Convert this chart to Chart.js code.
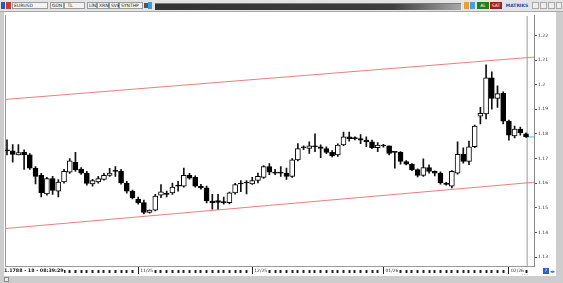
<!DOCTYPE html>
<html><head><meta charset="utf-8">
<script src="https://cdn.jsdelivr.net/npm/chart.js@4/dist/chart.umd.min.js"></script>
<style>
html,body{margin:0;padding:0;background:#fff;}
#frame{position:relative;width:563px;height:283px;background:#cdcdcd;overflow:hidden;font-family:"DejaVu Sans",sans-serif;}
.a{position:absolute;box-sizing:border-box;white-space:nowrap;}
.btn{top:2px;height:7px;border:1px solid #9c9c9c;background:#f3f3f3;font-size:4.5px;line-height:5px;color:#222;padding-left:1px;}
</style></head>
<body>
<div id="frame">
  <div class="a" style="left:0;top:0;width:563px;height:12px;background:#e4e4e4;border-bottom:1px solid #a8a8a8"></div>
  <svg class="a" style="left:0;top:0;z-index:5" width="563" height="12" xmlns="http://www.w3.org/2000/svg">
    <defs><linearGradient id="g" x1="0" x2="1" y1="0" y2="0">
      <stop offset="0" stop-color="#333333"/><stop offset="0.78" stop-color="#3e3e3e"/><stop offset="1" stop-color="#a8a8a8"/>
    </linearGradient></defs>
    <rect x="155" y="3" width="306" height="7" fill="url(#g)"/>
    <rect x="155" y="3" width="306" height="1" fill="#7a7a7a"/>
  </svg>
  <div class="a" style="left:1px;top:2px;width:4px;height:7px;background:#2c56b0"></div>
  <div class="a" style="left:6px;top:2px;width:5px;height:7px;background:#c83a3a"></div>
  <div class="a btn" style="left:12px;width:36px">EURUSD</div>
  <div class="a btn" style="left:50px;width:14px">GÜN</div>
  <div class="a btn" style="left:64px;width:21px">&nbsp;TL</div>
  <div class="a btn" style="left:87px;width:10px">LİN</div>
  <div class="a btn" style="left:97px;width:12px">XRN</div>
  <div class="a btn" style="left:109px;width:10px">SVB</div>
  <div class="a btn" style="left:119px;width:24px">SYNTHP</div>
  <div class="a" style="left:144px;top:3px;width:4px;height:5px;background:#555"></div>
  <div class="a" style="left:148px;top:2px;width:4px;height:7px;background:#3a9be0"></div>
  <div class="a" style="left:464px;top:2px;width:5px;height:7px;background:#e8a030"></div>
  <div class="a" style="left:470px;top:2px;width:5px;height:7px;background:#4aa0d0"></div>
  <div class="a" style="left:477px;top:2px;width:12px;height:7px;background:#1f7d22;color:#fff;font-size:4.5px;line-height:7px;text-align:center">AL</div>
  <div class="a" style="left:490px;top:2px;width:12px;height:7px;background:#a81c1c;color:#fff;font-size:4.5px;line-height:7px;text-align:center">SAT</div>
  <div class="a" style="left:504px;top:2px;width:26px;height:7px;background:#dfe4ee;color:#2e4c9a;font-size:4.5px;line-height:7px;text-align:center;font-weight:bold">MATRIKS</div>
  <div class="a" style="left:532px;top:2px;width:7px;height:7px;border:1px solid #aaa;background:#eee"></div>
  <div class="a" style="left:540px;top:2px;width:7px;height:7px;border:1px solid #aaa;background:#eee"></div>
  <div class="a" style="left:548px;top:2px;width:7px;height:7px;border:1px solid #aaa;background:#eee"></div>
  <div class="a" style="left:556px;top:2px;width:6px;height:7px;border:1px solid #aaa;background:#eee"></div>
  <div class="a" style="left:4px;top:12px;width:552px;height:264px;background:#fff">
    <canvas id="c" width="552" height="264"></canvas>
  </div>
  <div class="a" style="left:4px;top:268px;font-size:4.8px;font-weight:bold;color:#111;background:#fff;line-height:6px">1.1788 - 18 - 08:39:29</div>
  <div class="a" style="left:4px;top:277px;width:5px;height:5px;border:1px solid #888;background:#eee"></div>
  <div class="a" style="left:522px;top:270px;font-size:5px;color:#555">....</div>
  <div class="a" style="left:543px;top:268px;width:6px;height:6px;background:#2f5fc0;color:#fff;font-size:4.5px;line-height:6px;text-align:center">?</div>
  <div class="a" style="left:550px;top:268px;font-size:5px;color:#2f5fc0;line-height:6px">◂▸</div>
</div>
<script>
const opens = [
1.1731,1.1731,1.1715,1.1725,1.1715,1.1661,1.1632,1.1557,1.1619,1.1568,
1.1605,1.1645,1.1685,1.1657,1.1641,1.1597,1.1605,1.1615,1.1632,1.1648,
1.1648,1.1601,1.1568,1.1535,1.1521,1.1481,1.1491,1.1552,1.1555,1.1561,
1.1588,1.1588,1.1632,1.1624,1.1588,1.1581,1.1528,1.1530,1.1521,1.1521,
1.1561,1.1597,1.1601,1.1597,1.1611,1.1624,1.1668,1.1645,1.1641,1.1641,
1.1628,1.1695,1.1744,1.1741,1.1748,1.1748,1.1741,1.1725,1.1715,1.1755,
1.1788,1.1781,1.1781,1.1775,1.1768,1.1744,1.1755,1.1752,1.1725,1.1725,
1.1688,1.1677,1.1655,1.1632,1.1664,1.1648,1.1641,1.1601,1.1588,1.1641,
1.1717,1.1688,1.1748,1.1872,1.1881,1.2028,1.1944,1.1965,1.1852,1.1792,
1.1820,1.1801];
const highs = [
1.1776,1.1757,1.1757,1.1736,1.1720,1.1668,1.1640,1.1624,1.1628,1.1615,
1.1656,1.1700,1.1725,1.1664,1.1648,1.1616,1.1628,1.1640,1.1660,1.1668,
1.1656,1.1608,1.1572,1.1544,1.1532,1.1492,1.1555,1.1595,1.1568,1.1601,
1.1608,1.1661,1.1640,1.1630,1.1596,1.1588,1.1555,1.1555,1.1544,1.1564,
1.1600,1.1611,1.1611,1.1624,1.1641,1.1672,1.1680,1.1656,1.1668,1.1661,
1.1700,1.1761,1.1752,1.1768,1.1801,1.1756,1.1748,1.1732,1.1760,1.1808,
1.1808,1.1788,1.1797,1.1788,1.1775,1.1765,1.1758,1.1752,1.1728,1.1728,
1.1692,1.1680,1.1658,1.1699,1.1675,1.1650,1.1646,1.1604,1.1651,1.1768,
1.1744,1.1771,1.1836,1.1908,1.2081,1.2052,1.1995,1.1971,1.1856,1.1832,
1.1828,1.1805];
const lows = [
1.1715,1.1685,1.1715,1.1656,1.1656,1.1597,1.1544,1.1552,1.1555,1.1544,
1.1600,1.1640,1.1648,1.1636,1.1592,1.1588,1.1600,1.1612,1.1628,1.1628,
1.1596,1.1560,1.1536,1.1515,1.1475,1.1478,1.1488,1.1541,1.1544,1.1555,
1.1568,1.1584,1.1616,1.1584,1.1576,1.1520,1.1495,1.1495,1.1515,1.1516,
1.1556,1.1566,1.1557,1.1595,1.1601,1.1620,1.1635,1.1635,1.1628,1.1615,
1.1624,1.1691,1.1736,1.1721,1.1728,1.1704,1.1720,1.1707,1.1709,1.1752,
1.1771,1.1776,1.1761,1.1748,1.1740,1.1728,1.1746,1.1715,1.1661,1.1677,
1.1674,1.1651,1.1626,1.1628,1.1641,1.1630,1.1596,1.1592,1.1581,1.1637,
1.1681,1.1675,1.1744,1.1841,1.1861,1.1901,1.1908,1.1841,1.1775,1.1784,
1.1795,1.1786];
const closes = [
1.1731,1.1717,1.1724,1.1715,1.1661,1.1628,1.1561,1.1619,1.1571,1.1605,
1.1648,1.1691,1.1655,1.1641,1.1599,1.1611,1.1619,1.1632,1.1641,1.1648,
1.1601,1.1568,1.1541,1.1521,1.1481,1.1491,1.1548,1.1565,1.1555,1.1584,
1.1588,1.1632,1.1621,1.1588,1.1581,1.1528,1.1521,1.1522,1.1521,1.1561,
1.1595,1.1597,1.1601,1.1611,1.1628,1.1668,1.1645,1.1641,1.1641,1.1628,
1.1695,1.1741,1.1744,1.1752,1.1748,1.1741,1.1725,1.1711,1.1755,1.1788,
1.1781,1.1781,1.1775,1.1768,1.1744,1.1755,1.1751,1.1721,1.1725,1.1688,
1.1677,1.1655,1.1632,1.1664,1.1648,1.1641,1.1601,1.1595,1.1648,1.1717,
1.1688,1.1748,1.1832,1.1884,1.2028,1.1944,1.1964,1.1852,1.1795,1.1820,
1.1805,1.1788];
const monthTickIndex = [23, 43, 66, 88];
const monthLabels = ['11/25', '12/25', '01/26', '02/26'];
const yTickValues = [1.13, 1.14, 1.15, 1.16, 1.17, 1.18, 1.19, 1.2, 1.21, 1.22];
const channelX = [-0.35, 92.4];
const channelUpper = [1.1940, 1.2112];
const channelLower = [1.1416, 1.1604];
const lastPrice = 1.1788;
const separatorX = 91.2;

const Y_MIN = 1.1264, Y_MAX = 1.228, X_MIN = -0.35, X_MAX = 92.4;

const idx = opens.map((_, i) => i);
const bodyData = idx.map(i => ({x: i, y: [Math.min(opens[i], closes[i]), Math.max(opens[i], closes[i])]}));
const wickData = idx.map(i => ({x: i, y: [lows[i], highs[i]]}));
const bodyFill = idx.map(i => closes[i] > opens[i] ? '#ffffff' : '#000000');

const dayTicks = [];
for (let i = 10; i < opens.length; i++) dayTicks.push(i);
const hidden = new Set();
monthTickIndex.forEach(m => { hidden.add(m + 1); hidden.add(m + 2); });
const isMonth = ctx => monthTickIndex.includes(ctx.tick && ctx.tick.value);

new Chart(document.getElementById('c'), {
  type: 'bar',
  data: {
    datasets: [
      {type: 'bar', data: bodyData, backgroundColor: bodyFill, borderColor: '#000', borderWidth: 1,
       borderSkipped: false, barThickness: 5, minBarLength: 1, grouped: false, order: 0},
      {type: 'bar', data: wickData, backgroundColor: '#111', borderWidth: 0,
       barThickness: 1, grouped: false, order: 1},
      {type: 'line', data: channelX.map((x, k) => ({x, y: channelUpper[k]})), borderColor: '#f27b7b',
       borderWidth: 1, pointRadius: 0, order: 2},
      {type: 'line', data: channelX.map((x, k) => ({x, y: channelLower[k]})), borderColor: '#f27b7b',
       borderWidth: 1, pointRadius: 0, order: 2},
      {type: 'line', data: [{x: separatorX, y: Y_MIN}, {x: separatorX, y: Y_MAX}], borderColor: '#9a9a9a',
       borderWidth: 1, pointRadius: 0, order: 3},
      {type: 'line', data: [{x: separatorX, y: lastPrice}, {x: X_MAX, y: lastPrice}], borderColor: '#3ec3d6',
       borderWidth: 1, pointRadius: 0, order: 3}
    ]
  },
  options: {
    responsive: false, animation: false, devicePixelRatio: 1,
    layout: {padding: {top: 0, left: 0, right: 0, bottom: 0}},
    plugins: {legend: {display: false}, tooltip: {enabled: false}},
    scales: {
      x: {
        type: 'linear', position: 'bottom', min: X_MIN, max: X_MAX, offset: false,
        afterFit: s => { s.height = 10; },
        afterBuildTicks: s => { s.ticks = dayTicks.map(v => ({value: v})); },
        grid: {
          offset: false, drawOnChartArea: false, tickLength: 8,
          tickColor: ctx => hidden.has(ctx.tick && ctx.tick.value) ? 'rgba(0,0,0,0)' : '#222',
          tickWidth: ctx => isMonth(ctx) ? 1 : 2,
          tickBorderDash: ctx => isMonth(ctx) ? [] : [3, 9],
          tickBorderDashOffset: ctx => isMonth(ctx) ? 0 : 9
        },
        border: {display: true, color: '#9a9a9a'},
        ticks: {
          autoSkip: false, maxRotation: 0, minRotation: 0, align: 'start', padding: -6, labelOffset: 2,
          font: {family: 'DejaVu Sans', size: 4.5}, color: '#333',
          callback: v => { const k = monthTickIndex.indexOf(v); return k >= 0 ? monthLabels[k] : ''; }
        }
      },
      y: {
        type: 'linear', position: 'right', min: Y_MIN, max: Y_MAX,
        afterFit: s => { s.width = 22; },
        afterBuildTicks: s => { s.ticks = yTickValues.map(v => ({value: v})); },
        grid: {drawOnChartArea: false, tickLength: 3, tickColor: '#555'},
        border: {display: true, color: '#8a8a8a'},
        ticks: {padding: 1, font: {family: 'DejaVu Sans', size: 4.5}, color: '#333',
          callback: v => String(+v.toFixed(2))}
      },
      yl: {
        type: 'linear', position: 'left', display: true,
        afterFit: s => { s.width = 1; },
        grid: {display: false, drawOnChartArea: false, tickLength: 0},
        border: {display: true, color: '#9a9a9a'},
        ticks: {display: false}
      }
    }
  }
});
</script>
</body></html>
